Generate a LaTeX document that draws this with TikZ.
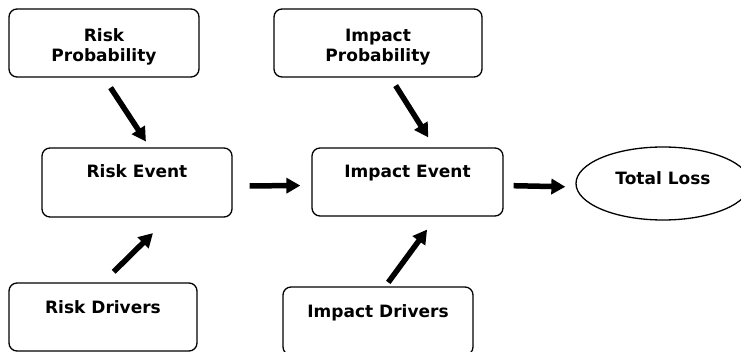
\documentclass[tikz,border=0pt]{standalone}
\usepackage{fontspec}
\setmainfont{DejaVu Sans}
\usetikzlibrary{positioning, shapes.geometric, arrows.meta}

\tikzset{
  box/.style={draw, rounded corners=8pt, line width=1.3pt, inner sep=0pt,
    minimum height=68pt, align=center,
    font=\bfseries\fontsize{17}{20}\selectfont},
  arr/.style={line width=5.5pt, -{Triangle[length=14pt, width=15pt]}}
}

\begin{document}
\begin{tikzpicture}[x=1pt, y=-1pt]
\clip (0,0) rectangle (741,352);

\node[box, minimum width=190pt, text height=38pt, text depth=0pt] (rp) at (104, 43) {Risk\\Probability};
\node[box, minimum width=208pt, text height=38pt, text depth=0pt] (ip) at (378, 43) {Impact\\Probability};
\node[box, minimum width=190pt, minimum height=69pt, text height=12pt, text depth=21pt] (re) at (137, 182.5) {Risk Event};
\node[box, minimum width=191pt, text height=12pt, text depth=21pt] (ie) at (407.5, 182) {Impact Event};
\node[box, minimum width=188pt, text height=12pt, text depth=18pt] (rd) at (103, 317) {Risk Drivers};
\node[box, minimum width=190pt, text height=12pt, text depth=18pt] (id) at (378, 321) {Impact Drivers};
\node[box, ellipse, rounded corners=0pt, minimum width=174pt, minimum height=73pt, text height=12pt, text depth=10pt] (tl) at (663, 183.5) {Total Loss};

\draw[arr, shorten <=12pt, shorten >=7pt] (rp.south) -- (re.70);
\draw[arr, shorten <=9.4pt, shorten >=11.7pt] (ip.-70) -- (ie.52);
\draw[arr, shorten <=15pt, shorten >=22pt] (rd.north) -- (re.-48);
\draw[arr, shorten <=4.9pt, shorten >=16pt] (id.78) -- (ie.-50);
\draw[arr, shorten <=17pt, shorten >=11pt] ([yshift=-3.5pt]re.east) -- ([yshift=-3.5pt]ie.west);
\draw[arr, shorten <=10pt, shorten >=10pt] ([yshift=-3.5pt]ie.east) -- ([yshift=-3.5pt]tl.west);

\end{tikzpicture}
\end{document}
